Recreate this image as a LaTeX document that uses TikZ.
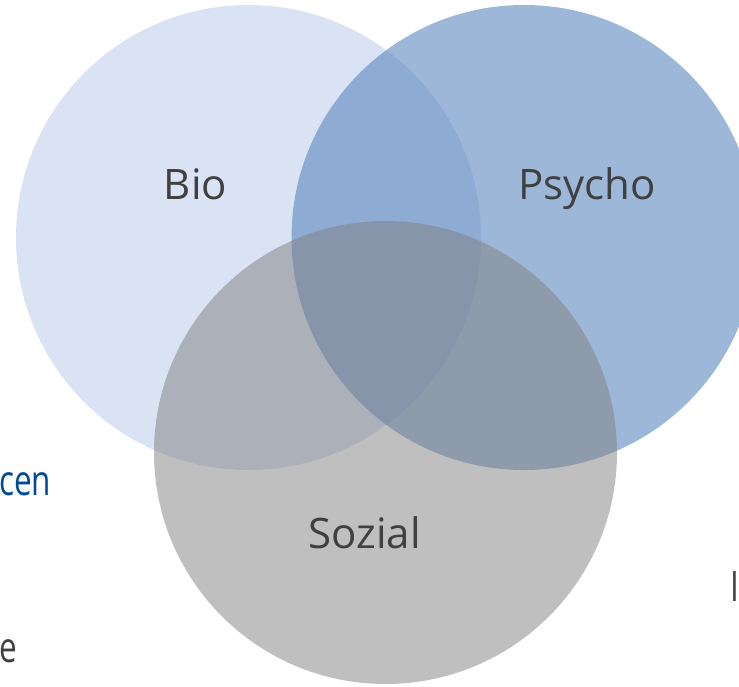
\documentclass[tikz,border=0pt]{standalone}
\usepackage{fontspec}
\setmainfont{Open Sans}
\newfontfamily\narrowsans[FakeStretch=0.75]{Open Sans}
\definecolor{biofill}{RGB}{218,227,243}
\definecolor{psyfill}{RGB}{92,135,190}
\definecolor{sozfill}{RGB}{128,128,128}
\definecolor{lbl}{RGB}{64,64,64}
\definecolor{blueText}{RGB}{0,74,152}
\tikzset{
  circlbl/.style={font=\fontsize{42}{50}\selectfont, text=lbl, inner sep=0pt, anchor=base},
  edgelbl/.style={font=\narrowsans\fontsize{42}{50}\selectfont, inner sep=0pt}
}
\begin{document}
\begin{tikzpicture}[x=1pt,y=-1pt]
\useasboundingbox (0,0) rectangle (739,686);
\clip (0,0) rectangle (739,686);
\fill[white] (0,0) rectangle (739,686);
\fill[biofill] (248.5,237.5) circle[radius=232.5];
\fill[psyfill, fill opacity=0.6] (524,237.5) circle[radius=232.5];
\fill[sozfill, fill opacity=0.5] (385.5,452.5) circle[radius=231.5];
\node[circlbl] (bio) at (195.5,199) {Bio};
\node[circlbl] (psycho) at (587,199) {Psycho};
\node[circlbl] (sozial) at (364.5,548) {Sozial};
\node[edgelbl, text=blueText, anchor=base west] (cen) at (-1,495) {cen};
\node[edgelbl, text=lbl, anchor=base west] (e) at (-1,662) {e};
\node[edgelbl, text=lbl, anchor=base west] (i) at (730,601) {I};
\end{tikzpicture}
\end{document}
